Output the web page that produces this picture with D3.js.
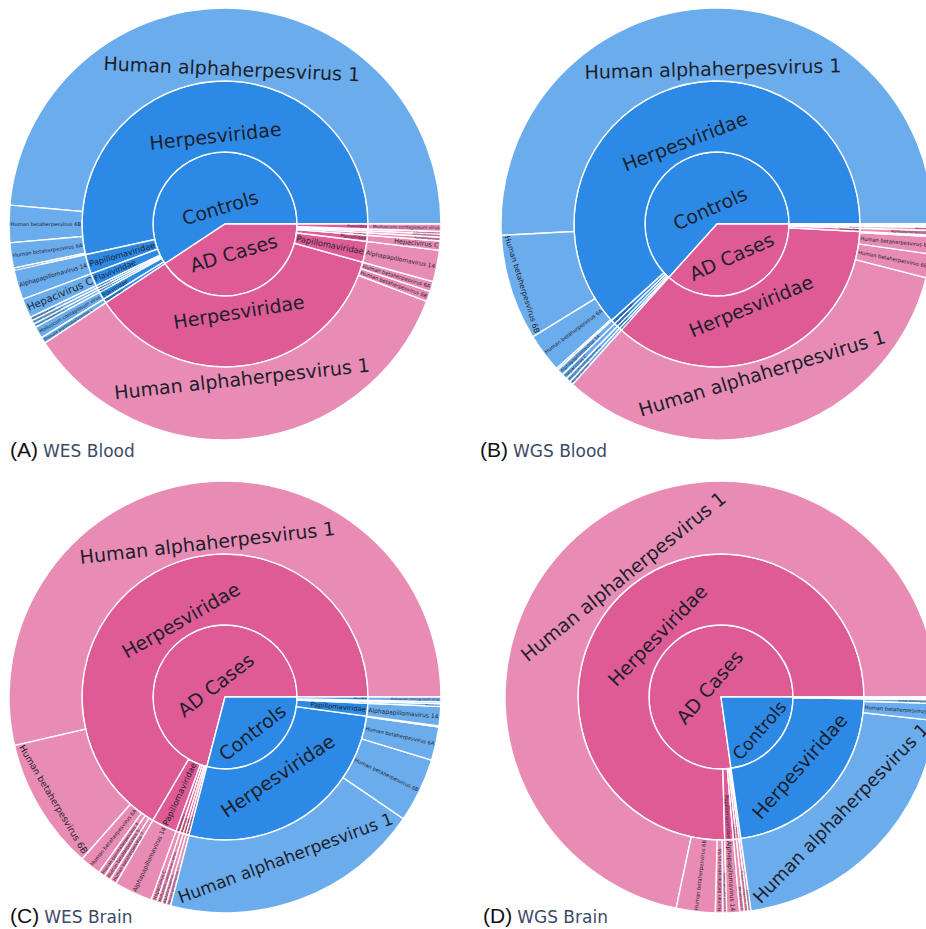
<!DOCTYPE html>
<html>
<head>
<meta charset="utf-8">
<script src="https://cdn.jsdelivr.net/npm/d3@7"></script>
<style>
  html, body { margin: 0; padding: 0; background: #ffffff; }
  svg { display: block; }
</style>
</head>
<body>
<svg id="chart" width="926" height="929"></svg>
<script>
// ---------------- DATA (values are angular shares) ----------------
const groupNames = ["Controls", "AD Cases"];
const groupColors = ["#2C89E5", "#DE5B96"];
const panelLetters = ["(A)", "(B)", "(C)", "(D)"];
const panelTitles = ["WES Blood", "WGS Blood", "WES Brain", "WGS Brain"];

// Panel A - WES Blood
const groupA = ["Controls","Controls","Controls","Controls","Controls","Controls","Controls","Controls","Controls","Controls","Controls",
                "AD Cases","AD Cases","AD Cases","AD Cases","AD Cases","AD Cases","AD Cases","AD Cases","AD Cases"];
const familyA = ["Herpesviridae","Herpesviridae","Herpesviridae","Herpesviridae","Papillomaviridae","Flaviviridae","Anelloviridae","Polyomaviridae","Adenoviridae","Poxviridae","Parvoviridae",
                 "Herpesviridae","Herpesviridae","Herpesviridae","Papillomaviridae","Flaviviridae","Anelloviridae","Polyomaviridae","Adenoviridae","Poxviridae"];
const speciesA = ["Human alphaherpesvirus 1","Human betaherpesvirus 6B","Human betaherpesvirus 6A","Human gammaherpesvirus 4","Alphapapillomavirus 14","Hepacivirus C","Alphatorquevirus","Human polyomavirus 1","Human mastadenovirus C","Molluscum contagiosum virus","Primate erythroparvovirus 1",
                  "Human alphaherpesvirus 1","Human betaherpesvirus 6B","Human betaherpesvirus 6A","Alphapapillomavirus 14","Hepacivirus C","Alphatorquevirus","Human polyomavirus 1","Human mastadenovirus C","Molluscum contagiosum virus"];
const valueA = [175, 10, 6.8, 0.6, 8, 5.2, 1.0, 1.0, 1.0, 3.2, 1.7,
                125.5, 2.8, 2.7, 8.5, 2.5, 1.0, 0.8, 0.7, 2.0];

// Panel B - WGS Blood
const groupB = ["Controls","Controls","Controls","Controls","Controls","Controls","Controls","Controls",
                "AD Cases","AD Cases","AD Cases","AD Cases","AD Cases","AD Cases","AD Cases","AD Cases"];
const familyB = ["Herpesviridae","Herpesviridae","Herpesviridae","Herpesviridae","Papillomaviridae","Flaviviridae","Poxviridae","Anelloviridae",
                 "Herpesviridae","Herpesviridae","Herpesviridae","Herpesviridae","Papillomaviridae","Flaviviridae","Poxviridae","Anelloviridae"];
const speciesB = ["Human alphaherpesvirus 1","Human betaherpesvirus 6B","Human betaherpesvirus 6A","Human gammaherpesvirus 4","Alphapapillomavirus 14","Hepacivirus C","Molluscum contagiosum virus","Alphatorquevirus",
                  "Human alphaherpesvirus 1","Human betaherpesvirus 6B","Human betaherpesvirus 6A","Human gammaherpesvirus 4","Alphapapillomavirus 14","Hepacivirus C","Molluscum contagiosum virus","Alphatorquevirus"];
const valueB = [183, 28.5, 10.5, 0.5, 1.8, 1.5, 1.2, 1.0,
                117.6, 6.4, 4.6, 0.4, 1.3, 0.8, 0.5, 0.4];

// Panel C - WES Brain
const groupC = ["AD Cases","AD Cases","AD Cases","AD Cases","AD Cases","AD Cases","AD Cases","AD Cases","AD Cases","AD Cases","AD Cases",
                "Controls","Controls","Controls","Controls","Controls","Controls","Controls","Controls"];
const familyC = ["Herpesviridae","Herpesviridae","Herpesviridae","Herpesviridae","Herpesviridae","Herpesviridae","Papillomaviridae","Flaviviridae","Poxviridae","Anelloviridae","Polyomaviridae",
                 "Herpesviridae","Herpesviridae","Herpesviridae","Herpesviridae","Papillomaviridae","Flaviviridae","Anelloviridae","Poxviridae"];
const speciesC = ["Human alphaherpesvirus 1","Human betaherpesvirus 6B","Human betaherpesvirus 6A","Human gammaherpesvirus 4","Human betaherpesvirus 5","Human betaherpesvirus 7","Alphapapillomavirus 14","Hepacivirus C","Molluscum contagiosum virus","Alphatorquevirus","Human polyomavirus 1",
                  "Human alphaherpesvirus 1","Human betaherpesvirus 6B","Human betaherpesvirus 6A","Human gammaherpesvirus 4","Alphapapillomavirus 14","Hepacivirus C","Alphatorquevirus","Molluscum contagiosum virus"];
const valueC = [193, 35.6, 5.7, 1.8, 1.8, 1.8, 10.3, 1.6, 1.4, 1.2, 1.2,
                70.3, 17.3, 9, 0.3, 5.2, 0.7, 0.5, 1.3];

// Panel D - WGS Brain
const groupD = ["AD Cases","AD Cases","AD Cases","AD Cases","AD Cases","AD Cases","AD Cases","AD Cases",
                "Controls","Controls","Controls","Controls","Controls"];
const familyD = ["Herpesviridae","Herpesviridae","Herpesviridae","Herpesviridae","Papillomaviridae","Flaviviridae","Poxviridae","Anelloviridae",
                 "Herpesviridae","Herpesviridae","Herpesviridae","Papillomaviridae","Flaviviridae"];
const speciesD = ["Human alphaherpesvirus 1","Human betaherpesvirus 6B","Human betaherpesvirus 6A","Human gammaherpesvirus 4","Alphapapillomavirus 14","Hepacivirus C","Molluscum contagiosum virus","Alphatorquevirus",
                  "Human alphaherpesvirus 1","Human betaherpesvirus 6B","Human betaherpesvirus 6A","Alphapapillomavirus 14","Hepacivirus C"];
const valueD = [258, 10.5, 2, 1, 3.5, 1.2, 1.0, 0.8,
                75.7, 4.6, 1.0, 0.4, 0.3];

// ---------------- LAYOUT ----------------
const panels = [
  { groups: groupA, families: familyA, species: speciesA, values: valueA, cx: 225, cy: 224, lx: 10,  ly: 457 },
  { groups: groupB, families: familyB, species: speciesB, values: valueB, cx: 717, cy: 224, lx: 480, ly: 457 },
  { groups: groupC, families: familyC, species: speciesC, values: valueC, cx: 225, cy: 697, lx: 10,  ly: 923 },
  { groups: groupD, families: familyD, species: speciesD, values: valueD, cx: 721, cy: 697, lx: 483, ly: 923 }
];

const FONT = 19;
const LABEL_FAMILY = "'DejaVu Sans', Verdana, sans-serif";
const svg = d3.select("#chart");

const radius = d3.scaleLinear().domain([1, 2, 3, 4]).range([0, 72, 143, 216]);
const angle = d3.scaleLinear().domain([0, 1]).range([0, 2 * Math.PI]);
const color = d3.scaleOrdinal().domain(groupNames).range(groupColors);

const arc = d3.arc()
  .startAngle(d => Math.PI / 2 - angle(d.x1))
  .endAngle(d => Math.PI / 2 - angle(d.x0))
  .innerRadius(d => radius(d.y0))
  .outerRadius(d => radius(d.y1));

const canvas = document.createElement("canvas");
const ctx = canvas.getContext("2d");
ctx.font = `${FONT}px ${LABEL_FAMILY}`;

function buildTree(p) {
  const root = { name: "root", children: [] };
  p.species.forEach((s, i) => {
    let g = root.children.find(c => c.name === p.groups[i]);
    if (!g) { g = { name: p.groups[i], children: [] }; root.children.push(g); }
    let f = g.children.find(c => c.name === p.families[i]);
    if (!f) { f = { name: p.families[i], children: [] }; g.children.push(f); }
    f.children.push({ name: s, value: p.values[i] });
  });
  return root;
}

// max scale of a text box inside an annular sector; returns {k, d}
function fitBox(r0, r1, span, along0, perp0) {
  const half = span / 2;
  const t = half < Math.PI / 2 - 1e-6 ? Math.tan(half) : Infinity;
  const R = r1 - 1.5;
  const inner = r0 > 0 ? r0 + 1 : 0;
  function lower(k) {
    const a = along0 * k, b = perp0 * k;
    let L = inner + a / 2;
    if (isFinite(t)) L = Math.max(L, (b / 2) / t + a / 2);
    if (b / 2 >= R) return null;
    const U = Math.sqrt(R * R - (b / 2) * (b / 2)) - a / 2;
    return L <= U ? L : null;
  }
  let lo = 0, hi = 8;
  for (let i = 0; i < 40; i++) {
    const m = (lo + hi) / 2;
    if (lower(m) !== null) lo = m; else hi = m;
  }
  const d = lower(lo);
  return { k: lo, d: d === null ? (r0 + r1) / 2 : d };
}

function normRot(r) {
  r = ((r % 180) + 180) % 180;
  if (r > 90) r -= 180;
  return r;
}

panels.forEach((p, pi) => {
  const root = d3.hierarchy(buildTree(p)).sum(d => d.value || 0);
  d3.partition().size([1, 4])(root);
  const nodes = root.descendants().filter(d => d.depth > 0);

  const g = svg.append("g").attr("transform", `translate(${p.cx},${p.cy})`);

  g.selectAll("path")
    .data(nodes)
    .join("path")
    .attr("d", arc)
    .attr("fill", d => color(d.ancestors().find(a => a.depth === 1).data.name))
    .attr("fill-opacity", d => d.children ? 1 : 0.7)
    .attr("stroke", "#ffffff")
    .attr("stroke-width", 1.4);

  const labels = [];
  nodes.forEach(d => {
    const t0 = angle(d.x0), t1 = angle(d.x1);
    const span = t1 - t0;
    const mid = (t0 + t1) / 2;
    const r0 = radius(d.y0), r1 = radius(d.y1);
    const w0 = ctx.measureText(d.data.name).width;
    const h0 = FONT * 1.15;
    const tan = fitBox(r0, r1, span, h0, w0);
    const rad = fitBox(r0, r1, span, w0, h0);
    const useTan = tan.k >= rad.k;
    const best = useTan ? tan : rad;
    const k = Math.min(best.k, 1);
    const fs = FONT * k;
    if (fs < 1.6) return;
    const midDeg = mid * 180 / Math.PI;
    const rot = normRot(useTan ? 90 - midDeg : -midDeg);
    labels.push({
      name: d.data.name,
      x: best.d * Math.cos(mid),
      y: -best.d * Math.sin(mid),
      rot, fs
    });
  });

  g.selectAll("text.lab")
    .data(labels)
    .join("text")
    .attr("class", "lab")
    .attr("transform", d => `translate(${d.x.toFixed(2)},${d.y.toFixed(2)}) rotate(${d.rot.toFixed(2)})`)
    .attr("text-anchor", "middle")
    .attr("dominant-baseline", "central")
    .attr("font-family", LABEL_FAMILY)
    .attr("font-size", d => d.fs.toFixed(2) + "px")
    .attr("fill", "#1d1f2b")
    .text(d => d.name);

  const title = svg.append("text")
    .attr("x", p.lx)
    .attr("y", p.ly);
  title.append("tspan")
    .attr("font-family", "'Liberation Sans', Arial, sans-serif")
    .attr("font-size", "21px")
    .attr("fill", "#111111")
    .text(panelLetters[pi]);
  title.append("tspan")
    .attr("dx", 5)
    .attr("font-family", "'DejaVu Sans', Verdana, sans-serif")
    .attr("font-size", "17px")
    .attr("fill", "#3c4a66")
    .text(panelTitles[pi]);
});
</script>
</body>
</html>
